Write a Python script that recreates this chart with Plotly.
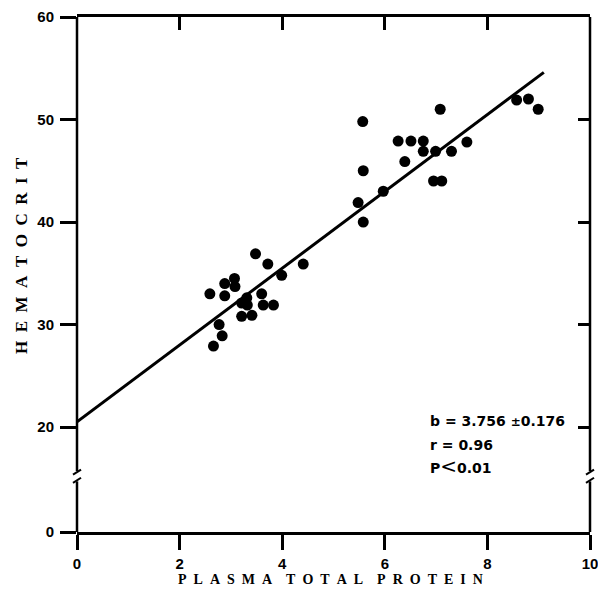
import plotly.graph_objects as go

# ---- data ----
PROTEIN = [3.48, 3.72, 4.41, 3.99, 2.88, 3.07, 3.08, 2.59, 2.88, 3.60,
           3.31, 3.21, 3.32, 3.63, 3.83, 3.21, 3.41, 2.77, 2.83, 2.66,
           7.08, 5.57, 6.26, 6.51, 6.75, 7.60, 6.75, 6.99, 7.30, 6.39,
           5.58, 6.95, 7.11, 5.97, 5.48, 5.58, 8.57, 8.80, 8.99]
HEMATOCRIT = [36.9, 35.9, 35.9, 34.8, 34.0, 34.5, 33.7, 33.0, 32.8, 33.0,
              32.6, 32.1, 31.9, 31.9, 31.9, 30.8, 30.9, 30.0, 28.9, 27.9,
              51.0, 49.8, 47.9, 47.9, 47.9, 47.8, 46.9, 46.9, 46.9, 45.9,
              45.0, 44.0, 44.0, 43.0, 41.9, 40.0, 51.9, 52.0, 51.0]
FIT_X = [0.0, 9.1]
FIT_Y = [20.5, 54.6]

X_TICKS = [0, 2, 4, 6, 8, 10]
Y_TICKS = [0, 20, 30, 40, 50, 60]
Y_INNER_TICKS = [20, 30, 40, 50]
X_INNER_TICKS = [2, 4, 6, 8]
STATS = ["b = 3.756 <span style='font-size:12px'>\u00b1</span>0.176",
         "r = 0.96",
         "P<span style='font-size:20px;font-weight:normal'>&lt;</span>0.01"]
X_TITLE = "PLASMA TOTAL PROTEIN"
Y_TITLE = "HEMATOCRIT"

# broken axis: values below 20 are compressed
BREAK_AT = 20
BREAK_SCALE = 0.512
def ypos(v):
    return v if v >= BREAK_AT else BREAK_AT - (BREAK_AT - v) * BREAK_SCALE

Y_MIN = ypos(0)
Y_MAX = 60
GAP_LO, GAP_HI = 14.7, 15.7   # axis positions of the break gap

W, H = 598, 589
ML, MR, MT, MB = 77, 8, 17, 57
PH = H - MT - MB
PW = W - ML - MR

def ypaper(v):
    return (v - Y_MIN) / (Y_MAX - Y_MIN)

def py2paper(py):
    return (H - MB - py) / PH

fig = go.Figure()
fig.add_trace(go.Scatter(x=FIT_X, y=FIT_Y, mode="lines",
                         line=dict(color="black", width=3),
                         showlegend=False, hoverinfo="skip"))
fig.add_trace(go.Scatter(x=PROTEIN, y=HEMATOCRIT, mode="markers",
                         marker=dict(color="black", size=11, line=dict(width=0)),
                         showlegend=False))
fig.add_trace(go.Scatter(x=[None], y=[None], xaxis="x2", yaxis="y2",
                         showlegend=False, hoverinfo="skip"))

tickfont = dict(family="Liberation Sans", size=15, color="black", weight="bold")

shapes = []
LW = 2.5
for xp in (0, 1):
    shapes.append(dict(type="line", xref="paper", yref="paper", x0=xp, x1=xp,
                       y0=ypaper(GAP_HI), y1=1, line=dict(color="black", width=LW)))
    shapes.append(dict(type="line", xref="paper", yref="paper", x0=xp, x1=xp,
                       y0=0, y1=ypaper(GAP_LO), line=dict(color="black", width=LW)))
    for base in (GAP_LO - 0.15, GAP_HI - 0.35):
        shapes.append(dict(type="line", xref="paper", yref="paper",
                           xsizemode="pixel", xanchor=xp, x0=-4, x1=4,
                           y0=ypaper(base), y1=ypaper(base + 0.5),
                           line=dict(color="black", width=2)))

annotations = []
stat_rows = [421, 445, 466]
for txt, row in zip(STATS, stat_rows):
    annotations.append(dict(text=txt, xref="paper", yref="paper",
                            x=(428 - ML) / PW, y=py2paper(row),
                            xanchor="left", yanchor="middle", showarrow=False,
                            font=dict(family="DejaVu Sans", size=14, color="black",
                                      weight="bold")))

sp2 = "\u00a0\u00a0"
xt = ("\u00a0" * 4).join(sp2.join(w) for w in X_TITLE.split(" "))
yt = sp2.join(Y_TITLE)
annotations.append(dict(text=xt, xref="paper", yref="paper",
                        x=(330 - ML) / PW, y=py2paper(579),
                        xanchor="center", yanchor="middle", showarrow=False,
                        font=dict(family="Liberation Serif", size=14, color="black",
                                  weight="bold")))
annotations.append(dict(text=yt, xref="paper", yref="paper",
                        x=(21 - ML) / PW, y=py2paper(256),
                        xanchor="center", yanchor="middle", showarrow=False,
                        textangle=-90,
                        font=dict(family="Liberation Serif", size=17, color="black",
                                  weight="bold")))

fig.update_layout(
    width=W, height=H,
    margin=dict(l=ML, r=MR, t=MT, b=MB, autoexpand=False),
    paper_bgcolor="white", plot_bgcolor="white",
    xaxis=dict(range=[0, 10], tickvals=X_TICKS, ticktext=[str(v) for v in X_TICKS],
               ticks="outside", ticklen=15, tickwidth=LW, tickcolor="black",
               showline=True, linewidth=LW, linecolor="black",
               showgrid=False, zeroline=False, tickfont=tickfont,
               ticklabelstandoff=1, ticklabeloverflow="allow"),
    yaxis=dict(range=[Y_MIN, Y_MAX], tickvals=[ypos(v) for v in Y_TICKS],
               ticktext=[str(v) for v in Y_TICKS],
               ticks="outside", ticklen=16, tickwidth=LW, tickcolor="black",
               showline=False, showgrid=False, zeroline=False, tickfont=tickfont,
               ticklabelstandoff=3, ticklabeloverflow="allow"),
    xaxis2=dict(range=[0, 10], overlaying="x", side="top", anchor="y",
                tickvals=X_INNER_TICKS, ticks="inside", ticklen=13, tickwidth=LW,
                tickcolor="black", showticklabels=False, showline=True,
                linewidth=LW, linecolor="black", showgrid=False, zeroline=False),
    yaxis2=dict(range=[Y_MIN, Y_MAX], overlaying="y", side="right", anchor="x",
                tickvals=Y_INNER_TICKS, ticks="inside", ticklen=12, tickwidth=LW,
                tickcolor="black", showticklabels=False, showline=False,
                showgrid=False, zeroline=False),
    shapes=shapes,
    annotations=annotations,
)

fig.write_html("out.html", config={"displayModeBar": False},
               post_script="document.body.style.margin='0';document.body.style.overflow='hidden';")
